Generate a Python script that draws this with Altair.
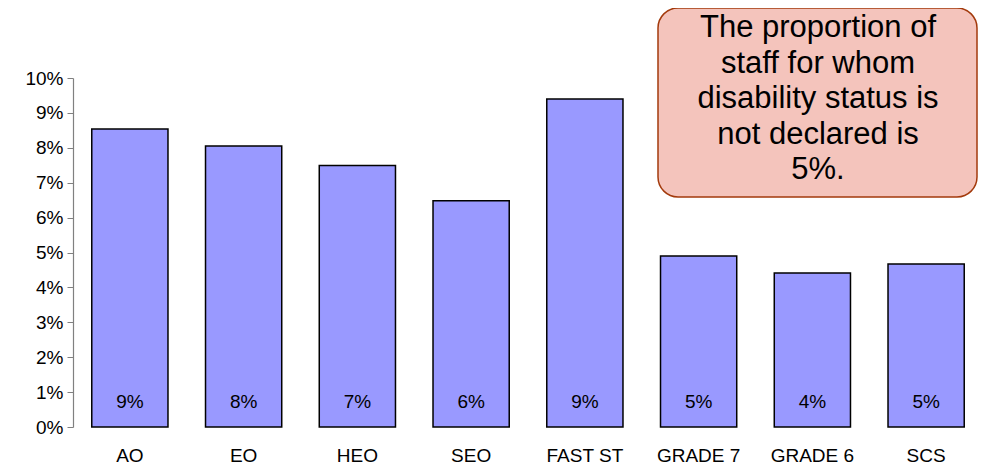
import altair as alt
import pandas as pd

categories = ["AO", "EO", "HEO", "SEO", "FAST ST", "GRADE 7", "GRADE 6", "SCS"]
values = [0.0854, 0.0805, 0.0749, 0.0648, 0.0940, 0.0490, 0.0441, 0.0467]
bar_labels = ["9%", "8%", "7%", "6%", "9%", "5%", "4%", "5%"]
y_ticks = [i / 100 for i in range(0, 11)]
callout_lines = ["The proportion of", "staff for whom", "disability status is",
                 "not declared is", "5%."]

df = pd.DataFrame({"cat": categories, "val": values, "lbl": bar_labels})

W, H = 910, 349
FONT = "Liberation Sans"
xscale = alt.Scale(domain=categories, paddingInner=0, paddingOuter=0)

bars = alt.Chart(df).mark_bar(width={"band": 0.67}, color="#9999FF",
                              stroke="black", strokeWidth=1.5).encode(
    x=alt.X("cat:N", sort=categories, scale=xscale, axis=None),
    y=alt.Y("val:Q", title=None,
            scale=alt.Scale(domain=[0, 0.1], nice=False),
            axis=alt.Axis(values=y_ticks, format=".0%", labelFontSize=19, labelFont=FONT,
                          labelColor="black", grid=False, domainColor="#808080",
                          tickColor="#808080", tickSize=6, labelPadding=4, domainWidth=1.2)),
)

labels = alt.Chart(df).mark_text(fontSize=19, font=FONT, color="black").encode(
    x=alt.X("cat:N", sort=categories, scale=xscale, axis=None),
    y=alt.value(H - 25),
    text="lbl:N",
)

xlabels = alt.Chart(df).mark_text(fontSize=19, font=FONT, color="black",
                                  baseline="middle").encode(
    x=alt.X("cat:N", sort=categories, scale=xscale, axis=None),
    y=alt.value(H + 29),
    text="cat:N",
)

box = alt.Chart(pd.DataFrame({"k": [0]})).mark_rect(
    fill="#F4C4BC", stroke="#A33A0C", strokeWidth=1.5, cornerRadius=20).encode(
    x=alt.value(585), x2=alt.value(904), y=alt.value(-70), y2=alt.value(119))

text_df = pd.DataFrame({"t": [callout_lines]})
callout = alt.Chart(text_df).mark_text(fontSize=31, font=FONT, color="black",
                                       lineHeight=35.5, baseline="top").encode(
    x=alt.value(745), y=alt.value(-65), text="t")

chart = alt.layer(bars, labels, xlabels, box, callout).properties(
    width=W, height=H,
    autosize=alt.AutoSizeParams(type="none"),
    padding={"left": 65, "top": 70, "right": 0, "bottom": 40},
).configure(background="white").configure_view(
    stroke="transparent", strokeWidth=0, strokeOpacity=0
).configure_axis(grid=False)

chart.save("out.html", embed_options={"renderer": "svg", "actions": False})
